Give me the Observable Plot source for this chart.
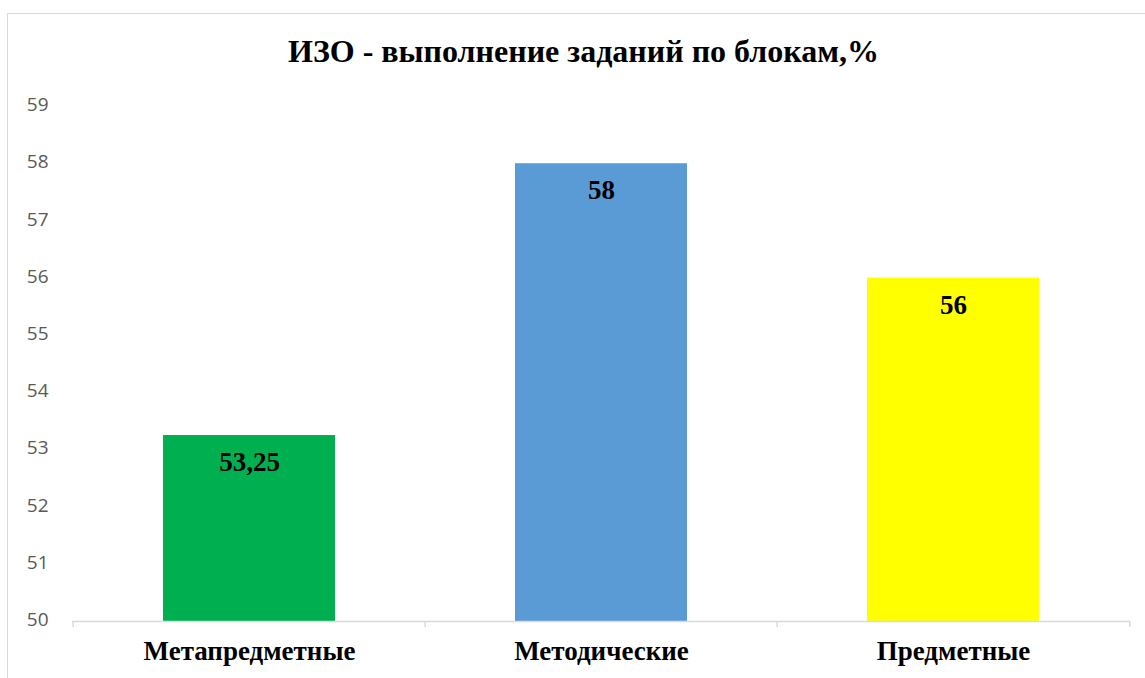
<!DOCTYPE html>
<html>
<head>
<meta charset="utf-8">
<script src="https://cdn.jsdelivr.net/npm/d3@7"></script>
<script src="https://cdn.jsdelivr.net/npm/@observablehq/plot@0.6"></script>
<style>
  html, body { margin: 0; padding: 0; background: #fff; }
  #wrap { position: relative; width: 1145px; height: 678px; overflow: hidden; background: #fff; }
  #frame { position: absolute; left: 7px; top: 13px; width: 1200px; height: 720px; border: 1.5px solid #d9d9d9; box-sizing: border-box; }
  #title { position: absolute; left: 0; top: 32px; width: 1167px; text-align: center;
           font-family: "Liberation Serif", "Times New Roman", serif; font-weight: bold; font-size: 32px; color: #000; line-height: 38px; }
  #chart { position: absolute; left: 0; top: 80px; }
</style>
</head>
<body>
<div id="wrap">
  <div id="frame"></div>
  <div id="title">ИЗО - выполнение заданий по блокам,%</div>
  <div id="chart"></div>
</div>
<script>
const categories = ["Метапредметные", "Методические", "Предметные"];
const values = [53.25, 58, 56];
const colors = ["#00b050", "#5b9bd5", "#ffff00"];
const yTicks = [50, 51, 52, 53, 54, 55, 56, 57, 58, 59];

const data = categories.map((c, i) => ({category: c, value: values[i], color: colors[i]}));

const W = 1145, H = 598, mL = 72, mR = 15, mT = 26, mB = 57;
const step = (W - mL - mR) / categories.length;
const pxPerUnit = (H - mT - mB) / 9;
const fmt = v => String(v).replace(".", ",");

const chart = Plot.plot({
  width: W,
  height: H,
  marginLeft: mL,
  marginRight: mR,
  marginTop: mT,
  marginBottom: mB,
  style: { background: "transparent", overflow: "visible" },
  x: { domain: categories, paddingInner: 0.512, paddingOuter: 0.256, label: null },
  y: { domain: [50, 59], label: null },
  marks: [
    Plot.axisY({
      ticks: yTicks, tickSize: 0, tickPadding: 24, label: null, dy: -1.5,
      fontSize: 19, fill: "#595959", fontFamily: "'Open Sans', sans-serif"
    }),
    Plot.barY(data, { x: "category", y1: 50, y2: "value", fill: d => d.color }),
    Plot.ruleY([50], { stroke: "#d9d9d9", strokeWidth: 1.5 }),
    Plot.ruleX(categories, { x: d => d, dx: -step / 2, y1: 50, y2: 50 - 6 / pxPerUnit, stroke: "#d9d9d9", strokeWidth: 1.5 }),
    Plot.ruleX(categories.slice(-1), { x: d => d, dx: step / 2, y1: 50, y2: 50 - 6 / pxPerUnit, stroke: "#d9d9d9", strokeWidth: 1.5 }),
    Plot.axisX({
      tickSize: 0, tickPadding: 19, label: null,
      fontSize: 27, fontWeight: "bold", fill: "#000", fontFamily: "'Liberation Serif', serif"
    }),
    Plot.text(data, {
      x: "category", y: "value", text: d => fmt(d.value), dy: 27,
      fontSize: 27, fontWeight: "bold", fill: "#000", fontFamily: "'Liberation Serif', serif"
    })
  ]
});
document.getElementById("chart").appendChild(chart);
</script>
</body>
</html>
